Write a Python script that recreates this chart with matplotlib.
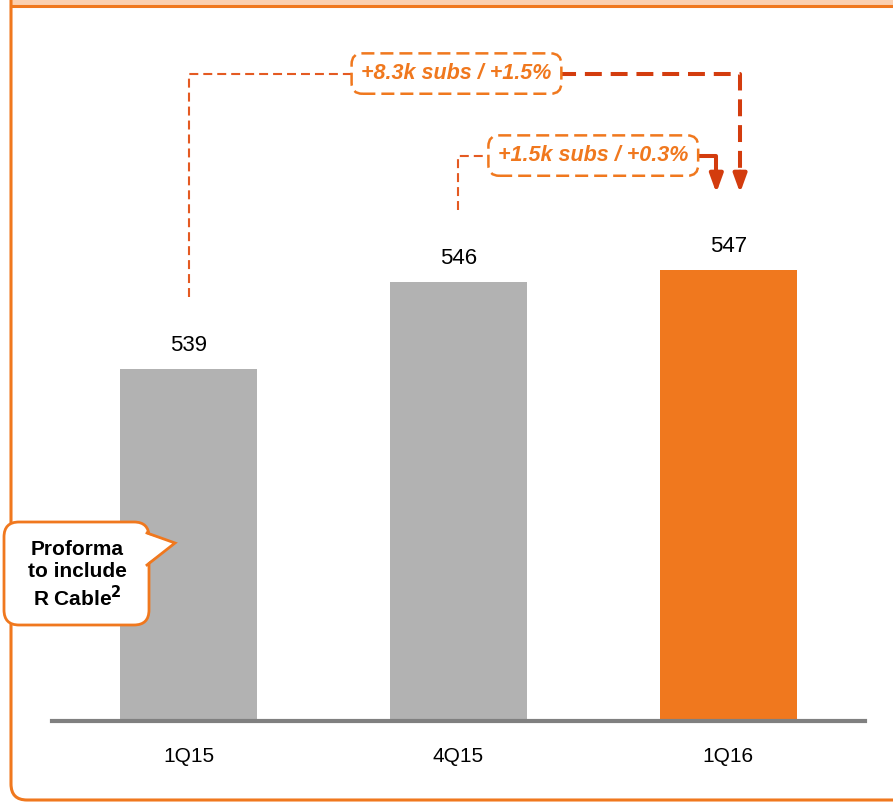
import numpy as np
import matplotlib
matplotlib.use('Agg')
import matplotlib.pyplot as plt
from matplotlib.patches import FancyBboxPatch, Polygon, Rectangle

plt.rcParams['font.family'] = ['Liberation Sans', 'DejaVu Sans']

quarters = ['1Q15', '4Q15', '1Q16']
subs = [539, 546, 547]
bar_colors = ['#b2b2b2', '#b2b2b2', '#f0781e']
growth_labels = ['+8.3k subs / +1.5%', '+1.5k subs / +0.3%']
note_text = 'Proforma\nto include\nR Cable$^{\\mathbf{2}}$'

orange = '#f0781e'
red_line = '#d33c0e'
thin_line = '#e45a22'

W, H = 893, 806
fig = plt.figure(figsize=(W / 100, H / 100), dpi=100)

# bar axes, baseline at y=721px
ax = fig.add_axes([52 / W, 85 / H, 813 / W, 681 / H])
x = np.arange(len(quarters))
ax.bar(x, subs, width=0.507, color=bar_colors, zorder=2)
ax.set_xlim(-0.506, 2.507)
ax.set_ylim(510.7, 565.5)
for s in ['top', 'right', 'left']:
    ax.spines[s].set_visible(False)
ax.spines['bottom'].set_color('#808080')
ax.spines['bottom'].set_linewidth(3)
ax.set_yticks([])
ax.set_xticks(x)
ax.set_xticklabels(quarters, fontsize=15)
ax.tick_params(axis='x', length=0, pad=19)

for xi, v in zip(x, subs):
    ax.text(xi, v + 1.9, str(v), ha='center', va='center', fontsize=16, zorder=3)

# growth connectors: 1Q15 -> 1Q16 and 4Q15 -> 1Q16
top1 = subs[0] + 23.8
top2 = subs[1] + 10.2
thin = dict(ls=(0, (4.3, 2.4)), color=thin_line, lw=1.5, zorder=1, clip_on=False)
thick = dict(ls=(0, (4.2, 2.2)), color=red_line, lw=2.9, zorder=1, clip_on=False)
head = dict(arrowstyle='-|>,head_width=0.4,head_length=1.1', color=red_line, lw=2.9,
            shrinkA=0, shrinkB=0)

ax.plot([0, 0, 0.99], [subs[0] + 5.8, top1, top1], **thin)
ax.plot([0.99, 2.044, 2.044], [top1, top1, subs[2] + 7.4], **thick)
ax.annotate('', xy=(2.044, subs[2] + 6.2), xytext=(2.044, subs[2] + 7.9), arrowprops=head)

ax.plot([1, 1, 1.5], [subs[1] + 5.8, top2, top2], **thin)
ax.plot([1.5, 1.956, 1.956], [top2, top2, subs[2] + 7.8], color=red_line, lw=2.9, zorder=1)
ax.annotate('', xy=(1.956, subs[2] + 6.2), xytext=(1.956, subs[2] + 8.0), arrowprops=head)

for cx, cy, lab in [(0.993, top1, growth_labels[0]), (1.5, top2, growth_labels[1])]:
    ax.text(cx, cy, lab, ha='center', va='center', fontsize=15.5, color=orange,
            fontweight='bold', fontstyle='italic', zorder=4,
            bbox=dict(boxstyle='round,pad=0.45,rounding_size=0.5', fc='white', ec=orange,
                      ls=(0, (5.2, 2.4)), lw=1.8))

# overlay in pixel coordinates for the frame and the note bubble
ov = fig.add_axes([0, 0, 1, 1], zorder=5)
ov.set_xlim(0, W)
ov.set_ylim(H, 0)
ov.axis('off')
ov.patch.set_alpha(0)

ov.add_patch(Rectangle((11, 0), W, 5, fc='#fbd0b0', ec='none'))
ov.add_patch(FancyBboxPatch((11, -30), W + 40, 830, boxstyle='round,pad=0,rounding_size=16',
                            fc='none', ec=orange, lw=2.2))
ov.plot([11, W], [5.5, 5.5], color=orange, lw=2.2)

ov.add_patch(FancyBboxPatch((4, 522), 145, 103, boxstyle='round,pad=0,rounding_size=15',
                            fc='white', ec=orange, lw=2))
ov.add_patch(Polygon([(146, 534), (175, 543), (146, 564)], closed=True, fc='white', ec='none'))
ov.plot([147, 175, 147], [533, 543, 565], color=orange, lw=2, solid_joinstyle='miter')
ov.text(77, 575, note_text, ha='center', va='center', fontsize=15, fontweight='bold',
        linespacing=1.2)

fig.savefig('out.png', dpi=100)
